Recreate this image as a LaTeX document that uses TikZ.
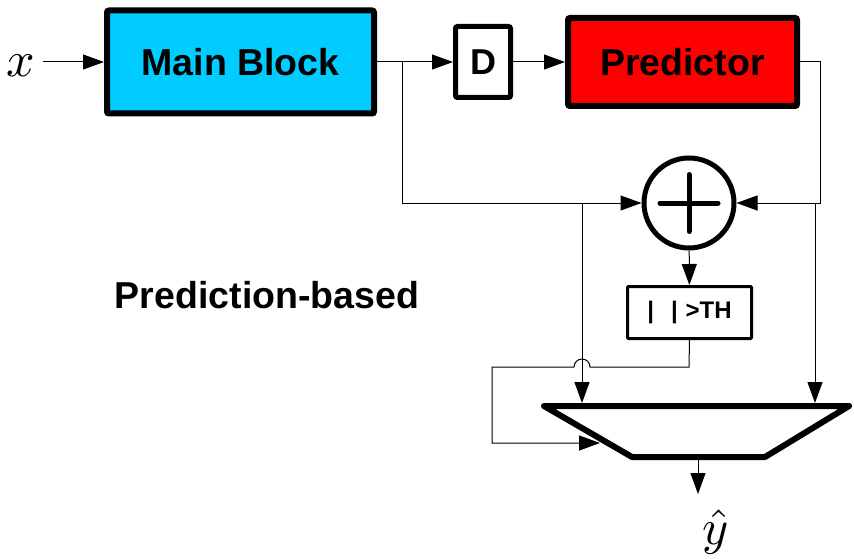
\documentclass[tikz,border=0pt]{standalone}
\usepackage{fontspec}
\setmainfont{Liberation Sans}
\usetikzlibrary{arrows.meta}
\definecolor{mainblue}{HTML}{00CCFF}
\definecolor{predred}{HTML}{FF0000}
\begin{document}
\begin{tikzpicture}[x=1pt,y=-1pt,
  blk/.style={draw, line width=6pt, rounded corners=2pt, inner sep=0pt,
    font=\fontsize{37.5}{40}\selectfont\bfseries},
  wire/.style={line width=1pt},
  arr/.style={wire, -{Triangle[length=21pt,width=15pt]}},
  mathlbl/.style={inner sep=0pt},
  caption/.style={font=\fontsize{37.5}{40}\selectfont\bfseries, inner sep=0pt},
]
\useasboundingbox (0,0) rectangle (854,559);

% blocks
\node[blk, fill=mainblue, minimum width=267pt, minimum height=103pt] (main) at (240.5,62) {Main Block};
\node[blk, line width=5pt, fill=white, minimum width=55pt, minimum height=71pt,
      font=\fontsize{36}{40}\selectfont\bfseries] (D) at (483,62) {D};
\node[blk, fill=predred, minimum width=229pt, minimum height=88pt] (pred) at (682.5,62) {Predictor};
\node[draw, circle, line width=5pt, minimum size=90pt, inner sep=0pt] (sum) at (689,203) {};
\draw[line width=5pt, line cap=round] ([xshift=-29pt]sum.center) -- ([xshift=29pt]sum.center);
\draw[line width=5pt, line cap=round] ([yshift=-28.5pt]sum.center) -- ([yshift=28.5pt]sum.center);
\node[blk, line width=3pt, rounded corners=1pt, minimum width=124pt, minimum height=52pt,
      font=\fontsize{24}{26}\selectfont\bfseries] (th) at (689.5,312.5) {|\hspace{17pt}|\hspace{8pt}>TH};

% multiplexer
\coordinate (mtl) at (544,406);
\coordinate (mtr) at (849,406);
\coordinate (mbr) at (765,457);
\coordinate (mbl) at (632,457);
\draw[line width=6pt, line join=round] (mtl) -- (mtr) -- (mbr) -- (mbl) -- cycle;
\coordinate (in1) at (582,403);
\coordinate (in2) at (815,403);
\coordinate (sel) at (600,443);
\coordinate (out) at (698,460);

% labels
\node[mathlbl] (xlbl) at (21,66) {\scalebox{5}{$x$}};
\node[mathlbl] (ylbl) at (716,532) {\scalebox{5}{$\hat{y}$}};
\node[caption] (cap) at (267,295) {Prediction-based};

% connectors
\coordinate (xin) at (43,62);
\coordinate (b1) at (402,62);
\coordinate (rc) at (820,62);
\coordinate (b2) at (582,203);
\coordinate (b3) at (815,203);
\coordinate (thd) at (689,367);
\coordinate (hopr) at (590,367);
\coordinate (lc) at (492,367);
\coordinate (yend) at (698,494);

\draw[arr] (xin) -- (main);
\draw[arr] (main) -- (D);
\draw[arr] (D) -- (pred);
\draw[arr] (b1) |- (sum.west);
\draw[arr] (pred.east) -- (rc) |- (sum.east);
\draw[arr] (b2) -- (in1);
\draw[arr] (b3) -- (in2);
\draw[arr] (sum) -- (th);
\draw[arr] (th.south) -- (thd) -- (hopr) arc[start angle=0, end angle=180, radius=8pt] -- (lc) |- (sel);
\draw[arr] (out) -- (yend);
\end{tikzpicture}
\end{document}
